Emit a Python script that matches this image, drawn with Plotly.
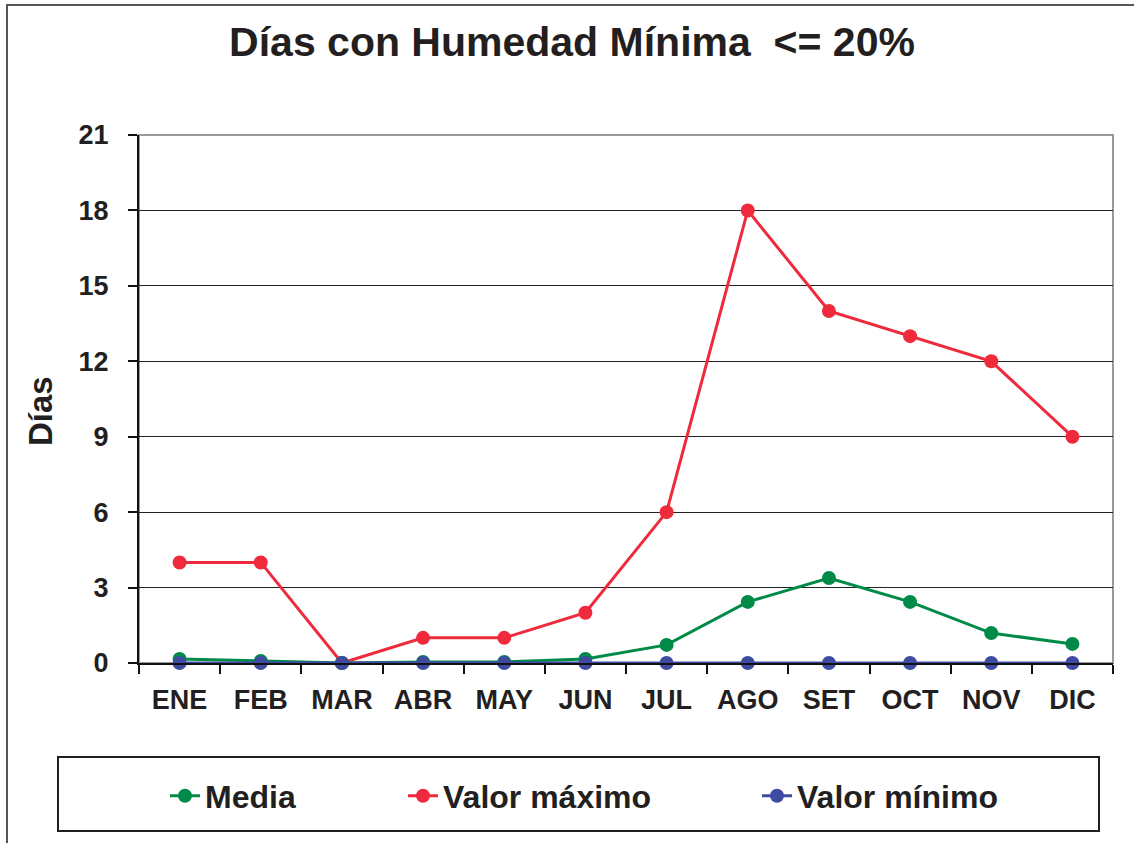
import plotly.graph_objects as go

months = ["ENE", "FEB", "MAR", "ABR", "MAY", "JUN", "JUL", "AGO", "SET", "OCT", "NOV", "DIC"]
media = [0.16, 0.08, 0.0, 0.04, 0.04, 0.16, 0.72, 2.43, 3.38, 2.43, 1.19, 0.76]
valor_maximo = [4, 4, 0, 1, 1, 2, 6, 18, 14, 13, 12, 9]
valor_minimo = [0, 0, 0, 0, 0, 0, 0, 0, 0, 0, 0, 0]
y_ticks = [0, 3, 6, 9, 12, 15, 18, 21]

FONT = "Liberation Sans, Arial, sans-serif"
TXT = "#231f20"

W, H = 1134, 843
L, R, T, B = 139, 1113, 135, 663
pw, ph = R - L, B - T


def px_x(x):
    return (x - L) / pw


def px_y(y):
    return (B - y) / ph


fig = go.Figure()
series = [
    ("Media", media, "#008a47", "legend"),
    ("Valor máximo", valor_maximo, "#ee2a3c", "legend2"),
    ("Valor mínimo", valor_minimo, "#3e4ba1", "legend3"),
]
# draw order: max, media, min on top
for name, vals, col, lg in [series[1], series[0], series[2]]:
    fig.add_trace(go.Scatter(
        x=months, y=vals, name=name, mode="lines+markers",
        line=dict(color=col, width=3),
        marker=dict(color=col, size=14),
        legend=lg, cliponaxis=False,
    ))

leg_common = dict(
    orientation="h", yanchor="middle", xanchor="left",
    bgcolor="rgba(0,0,0,0)", borderwidth=0,
    font=dict(family=FONT, size=32, color=TXT, weight="bold"),
)
legend_y = px_y(796)

fig.update_layout(
    width=W, height=H,
    margin=dict(l=L, r=W - R, t=T, b=H - B),
    paper_bgcolor="white", plot_bgcolor="white",
    title=dict(
        text="Días con Humedad Mínima \u00a0<= 20%",
        font=dict(family=FONT, size=41, color=TXT, weight="bold"),
        x=572 / W, xref="container", xanchor="center",
        y=1 - 42 / H, yref="container", yanchor="middle",
    ),
    legend=dict(x=px_x(165), y=legend_y, **leg_common),
    legend2=dict(x=px_x(403), y=legend_y, **leg_common),
    legend3=dict(x=px_x(757), y=legend_y, **leg_common),
    xaxis=dict(
        type="category", categoryorder="array", categoryarray=months,
        range=[-0.5, 11.5],
        showline=True, linecolor="#111", linewidth=2,
        ticks="outside", tickson="boundaries", ticklen=9, tickcolor="#111", tickwidth=1.5,
        showgrid=False, zeroline=False,
        tickfont=dict(family=FONT, size=27, color=TXT, weight="bold"),
        ticklabelstandoff=12,
    ),
    yaxis=dict(
        range=[0, 21], tickvals=y_ticks,
        showline=True, linecolor="#111", linewidth=2,
        ticks="outside", ticklen=9, tickcolor="#111", tickwidth=1.5,
        showgrid=True, gridcolor="#222", gridwidth=1.3,
        zeroline=False,
        tickfont=dict(family=FONT, size=27, color=TXT, weight="bold"),
        ticklabelstandoff=14,
    ),
    showlegend=True,
)

# plot area frame (grey top / right)
fig.add_shape(type="rect", xref="paper", yref="paper", x0=0, x1=1, y0=0, y1=1,
              line=dict(color="#9a9a9a", width=2), layer="below")
# legend box
fig.add_shape(type="rect", xref="paper", yref="paper",
              x0=px_x(58), x1=px_x(1099), y0=px_y(831), y1=px_y(757),
              line=dict(color="#231f20", width=2))
# outer chart border
fig.add_shape(type="rect", xref="paper", yref="paper",
              x0=px_x(7), x1=px_x(1145), y0=px_y(855), y1=px_y(5),
              line=dict(color="#555", width=2))

fig.add_annotation(text="Días", xref="paper", yref="paper",
                   x=px_x(40), y=px_y(411), textangle=-90, showarrow=False,
                   xanchor="center", yanchor="middle",
                   font=dict(family=FONT, size=33, color=TXT, weight="bold"))

fig.write_html(
    "out.html",
    config={"displayModeBar": False},
    post_script="document.body.style.margin='0';document.body.style.overflow='hidden';",
)
